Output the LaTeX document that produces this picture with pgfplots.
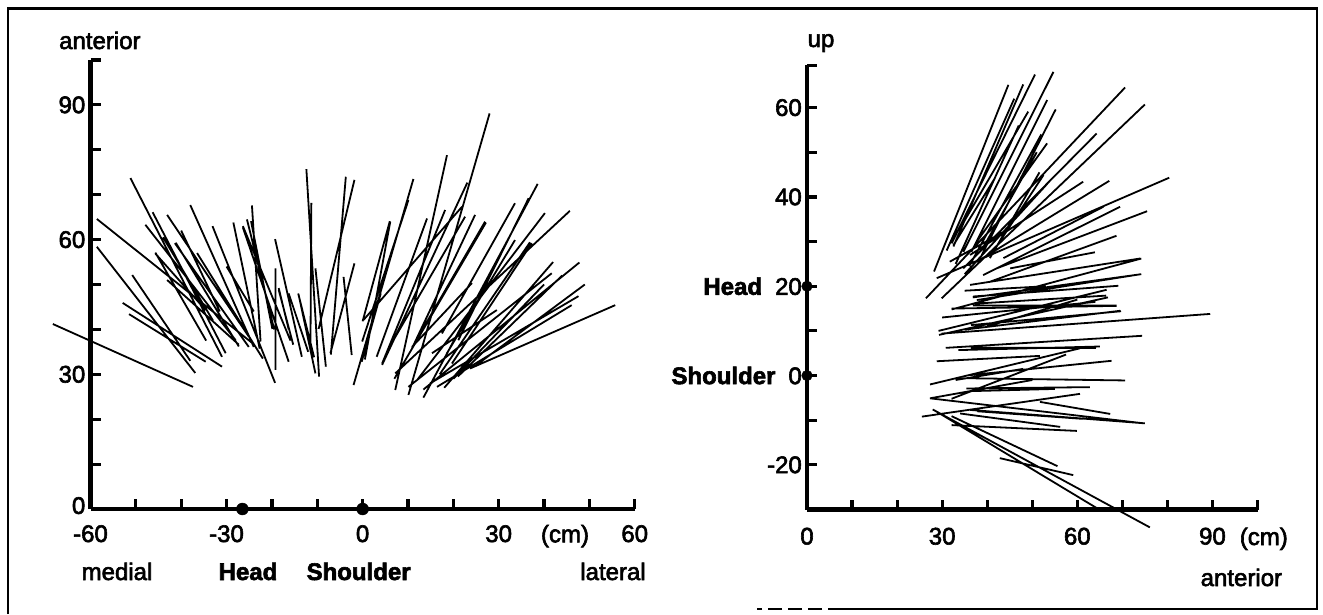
\documentclass[border=0pt]{standalone}
\usepackage{fontspec}
\setmainfont{Liberation Sans}[UprightFeatures={FakeBold=2.5}, BoldFeatures={FakeBold=2.5}]
\usepackage{pgfplots}
\pgfplotsset{compat=1.18}
\begin{document}
\begin{tikzpicture}[x=1pt,y=1pt,font=\fontsize{24}{28}\selectfont]
\useasboundingbox (0,0) rectangle (1323,614);
\draw[line width=2.2pt] (8,0) -- (8,605.5) -- (1317,605.5) -- (1317,5) -- (842,5);
\draw[line width=2.2pt, dash pattern=on 14pt off 6pt] (842,5) -- (757,5);
\pgfplotsset{
  panel/.style={scale only axis, clip=false,
    axis x line*=bottom, axis y line*=left,
    tick align=inside, major tick length=10pt,
    every tick/.style={black, line width=3.2pt},
    tick style={black, line width=3.2pt},
    major tick style={black, line width=3.2pt},
    axis line style={line width=4.2pt},
    every outer x axis line/.append style={line width=4.2pt},
    every outer y axis line/.append style={line width=4.2pt},
    tick label style={font=\fontsize{24}{28}\selectfont, inner sep=0pt},
    yticklabel style={anchor=east, xshift=-5pt},
  },
  seg/.style={black, line width=1.8pt, unbounded coords=jump, mark=none},
}
% ---------------- left panel ----------------
\begin{axis}[panel, at={(90.5pt,105pt)}, anchor=south west,
  width=544.2pt, height=449pt,
  xmin=-60, xmax=60, ymin=0, ymax=100,
  xtick={-60,-50,...,60}, xticklabels={-60,,,-30,,,0,,,30,,,60},
  xticklabel style={anchor=base, yshift=-33pt},
  ytick={0,10,...,100}, yticklabels={\raisebox{7pt}{0},,,30,,,60,,,90,},
]
\addplot[seg] table[row sep=\\] {
x y\\
-68.3 41.2\\ -37.4 27.2\\ nan nan\\
-58.6 64.6\\ -24.0 36.7\\ nan nan\\
-58.6 58.4\\ -36.9 30.3\\ nan nan\\
-50.8 52.1\\ -38.0 33.0\\ nan nan\\
-52.9 45.9\\ -31.0 31.7\\ nan nan\\
-51.5 43.4\\ -34.6 32.8\\ nan nan\\
-51.2 73.7\\ -31.0 33.9\\ nan nan\\
-46.3 66.1\\ -30.2 34.7\\ nan nan\\
-47.9 63.3\\ -28.0 37.6\\ nan nan\\
-45.7 56.9\\ -34.6 44.3\\ nan nan\\
-43.1 65.5\\ -25.1 38.4\\ nan nan\\
-41.4 59.2\\ -25.1 36.1\\ nan nan\\
-38.0 67.7\\ -24.0 36.1\\ nan nan\\
-33.1 63.0\\ -19.3 28.1\\ nan nan\\
-28.5 63.8\\ -22.7 35.7\\ nan nan\\
-24.4 67.6\\ -22.5 37.3\\ nan nan\\
-26.4 62.7\\ -16.3 32.8\\ nan nan\\
-25.5 64.5\\ -19.5 40.0\\ nan nan\\
-19.3 60.1\\ -13.4 33.9\\ nan nan\\
-19.2 53.6\\ -19.2 31.0\\ nan nan\\
-16.3 48.0\\ -12.0 35.0\\ nan nan\\
-14.1 47.7\\ -10.4 30.2\\ nan nan\\
-18.5 49.2\\ -16.3 40.0\\ nan nan\\
-12.4 75.7\\ -9.6 29.5\\ nan nan\\
-11.3 68.2\\ -11.5 36.0\\ nan nan\\
-10.4 53.6\\ -8.1 31.7\\ nan nan\\
-3.7 74.0\\ -7.0 34.4\\ nan nan\\
-1.8 73.3\\ -9.7 40.1\\ nan nan\\
-1.8 54.7\\ -7.1 34.7\\ nan nan\\
-4.2 51.7\\ -2.4 34.3\\ nan nan\\
-45.7 57.1\\ -34.5 37.5\\ nan nan\\
-41.2 59.3\\ -27.3 36.2\\ nan nan\\
-43.1 51.0\\ -27.3 36.6\\ nan nan\\
-26.4 63.0\\ -15.9 37.5\\ nan nan\\
-24.6 64.1\\ -19.9 40.1\\ nan nan\\
-18.5 48.8\\ -15.3 36.6\\ nan nan\\
-14.2 48.0\\ -10.7 33.8\\ nan nan\\
-40.0 62.0\\ -31.5 44.0\\ nan nan\\
-36.5 57.0\\ -22.0 33.5\\ nan nan\\
-44.0 60.5\\ -33.0 42.0\\ nan nan\\
-30.0 54.0\\ -24.0 44.0\\ nan nan\\
-2.0 27.6\\ 11.2 73.5\\ nan nan\\
0.0 41.8\\ 6.0 64.1\\ nan nan\\
7.2 26.5\\ 18.6 78.8\\ nan nan\\
10.1 25.4\\ 28.0 88.1\\ nan nan\\
13.4 24.8\\ 38.6 72.4\\ nan nan\\
23.7 31.3\\ 55.7 45.4\\ nan nan\\
13.4 26.6\\ 47.8 54.9\\ nan nan\\
16.4 27.2\\ 46.1 45.4\\ nan nan\\
12.0 28.7\\ 40.2 65.9\\ nan nan\\
7.2 30.2\\ 45.7 66.4\\ nan nan\\
10.1 27.2\\ 41.7 52.5\\ nan nan\\
14.9 28.0\\ 47.6 47.4\\ nan nan\\
-0.1 37.3\\ 10.1 68.8\\ nan nan\\
3.1 33.9\\ 14.2 64.7\\ nan nan\\
0.5 33.3\\ 6.1 64.0\\ nan nan\\
4.3 32.4\\ 18.2 66.6\\ nan nan\\
0.2 42.1\\ 21.9 67.3\\ nan nan\\
10.9 35.8\\ 24.8 65.5\\ nan nan\\
6.8 37.6\\ 22.6 65.1\\ nan nan\\
12.7 39.1\\ 27.0 64.0\\ nan nan\\
17.5 39.1\\ 33.6 68.1\\ nan nan\\
21.1 37.6\\ 36.6 69.2\\ nan nan\\
18.6 34.7\\ 33.6 59.9\\ nan nan\\
19.7 32.4\\ 37.3 59.2\\ nan nan\\
10.9 36.1\\ 24.1 50.3\\ nan nan\\
15.3 34.7\\ 29.6 44.3\\ nan nan\\
4.3 32.1\\ 23.1 72.7\\ nan nan\\
7.0 29.0\\ 27.2 63.8\\ nan nan\\
17.0 30.0\\ 36.9 59.4\\ nan nan\\
-0.2 32.8\\ 4.0 48.0\\ nan nan\\
20.0 29.0\\ 40.0 50.0\\ nan nan\\
25.0 32.0\\ 49.0 50.0\\ nan nan\\
18.0 27.0\\ 42.0 55.0\\ nan nan\\
21.0 29.5\\ 44.0 52.0\\
};
\addplot[only marks, mark=*, mark size=6pt, black] table[row sep=\\] {
x y\\ -26.5 0\\ 0 0\\
};
\end{axis}
% ---------------- right panel ----------------
\begin{axis}[panel, at={(807pt,104.5pt)}, anchor=south west,
  width=450.5pt, height=444.3pt,
  xmin=0, xmax=100, ymin=-30, ymax=69.5,
  xtick={0,10,...,100}, xticklabels={0,,,30,,,60,,,90,},
  xticklabel style={anchor=base, yshift=-35pt},
  ytick={-30,-20,-10,0,10,20,30,40,50,60,69.5},
  yticklabels={,-20,,\textbf{Shoulder}\hspace{13pt}0,,\textbf{Head}\hspace{13pt}20,,40,,60,},
]
\addplot[seg] table[row sep=\\] {
x y\\
28.2 23.3\\ 44.7 65.1\\ nan nan\\
32.5 28.9\\ 48.0 65.2\\ nan nan\\
32.1 29.6\\ 50.6 67.4\\ nan nan\\
34.7 27.7\\ 54.7 68.0\\ nan nan\\
36.5 27.7\\ 53.3 61.7\\ nan nan\\
38.8 27.0\\ 55.2 59.6\\ nan nan\\
34.0 33.0\\ 49.1 59.1\\ nan nan\\
37.7 30.0\\ 53.3 52.0\\ nan nan\\
26.4 17.3\\ 70.6 64.5\\ nan nan\\
29.9 17.3\\ 75.0 60.7\\ nan nan\\
34.7 24.0\\ 64.3 54.2\\ nan nan\\
40.6 26.3\\ 51.6 45.5\\ nan nan\\
36.2 27.0\\ 61.3 43.4\\ nan nan\\
28.8 21.8\\ 80.4 44.3\\ nan nan\\
37.7 25.5\\ 67.1 43.6\\ nan nan\\
42.1 24.0\\ 75.5 36.8\\ nan nan\\
39.1 22.5\\ 69.5 37.8\\ nan nan\\
43.6 26.3\\ 65.8 37.8\\ nan nan\\
40.6 21.0\\ 68.7 31.3\\ nan nan\\
45.1 24.0\\ 63.9 27.6\\ nan nan\\
36.2 20.3\\ 73.9 26.2\\ nan nan\\
37.7 16.9\\ 74.1 22.7\\ nan nan\\
36.9 17.7\\ 69.1 20.1\\ nan nan\\
31.7 25.5\\ 45.1 33.0\\ nan nan\\
42.8 30.0\\ 52.5 44.9\\ nan nan\\
32.5 29.2\\ 41.7 44.2\\ nan nan\\
35.0 22.7\\ 53.3 42.9\\ nan nan\\
33.0 25.0\\ 47.0 56.0\\ nan nan\\
36.0 24.5\\ 52.0 54.0\\ nan nan\\
31.0 28.0\\ 46.0 62.0\\ nan nan\\
39.0 28.5\\ 51.0 50.0\\ nan nan\\
36.8 15.7\\ 68.7 15.7\\ nan nan\\
29.2 10.0\\ 66.5 19.2\\ nan nan\\
29.9 9.4\\ 89.5 13.8\\ nan nan\\
35.1 10.3\\ 69.5 14.5\\ nan nan\\
32.1 15.0\\ 68.7 15.6\\ nan nan\\
29.3 9.1\\ 66.8 17.5\\ nan nan\\
36.4 11.3\\ 69.7 14.4\\ nan nan\\
37.3 16.1\\ 66.4 17.9\\ nan nan\\
30.8 6.2\\ 74.4 8.9\\ nan nan\\
36.4 6.2\\ 64.1 6.2\\ nan nan\\
28.8 3.2\\ 51.7 4.4\\ nan nan\\
33.6 5.7\\ 65.0 6.5\\ nan nan\\
27.3 -2.0\\ 60.6 6.1\\ nan nan\\
36.2 0.1\\ 67.6 3.3\\ nan nan\\
35.4 -0.6\\ 70.6 -1.1\\ nan nan\\
35.4 -2.9\\ 62.8 -2.6\\ nan nan\\
32.1 -5.2\\ 57.5 4.7\\ nan nan\\
25.5 -9.2\\ 60.6 -4.1\\ nan nan\\
27.3 -5.1\\ 74.7 -10.7\\ nan nan\\
27.3 -5.1\\ 50.0 -1.0\\ nan nan\\
27.9 -7.6\\ 76.1 -34.0\\ nan nan\\
28.8 -8.1\\ 65.0 -30.1\\ nan nan\\
42.8 -18.5\\ 59.1 -22.3\\ nan nan\\
32.1 -11.1\\ 59.9 -12.4\\ nan nan\\
34.0 -8.5\\ 56.2 -11.5\\ nan nan\\
36.2 -7.7\\ 75.0 -10.7\\ nan nan\\
51.7 -5.9\\ 67.3 -8.6\\ nan nan\\
32.1 -9.1\\ 55.6 -20.3\\ nan nan\\
37.8 -8.0\\ 61.2 -9.7\\ nan nan\\
36.0 -3.5\\ 55.0 -3.0\\ nan nan\\
32.1 14.8\\ 74.2 26.2\\ nan nan\\
36.8 17.5\\ 74.2 22.7\\ nan nan\\
30.0 13.0\\ 64.0 16.5\\ nan nan\\
40.0 11.0\\ 60.0 17.0\\ nan nan\\
33.0 -1.0\\ 48.0 1.5\\ nan nan\\
35.0 19.0\\ 53.0 20.0\\
};
\addplot[only marks, mark=*, mark size=5.3pt, black] table[row sep=\\] {
x y\\ 0 0\\ 0 20\\
};
\end{axis}
% ---------------- texts ----------------
\node[anchor=base west, inner sep=0] at (59,565) {anterior};
\node[anchor=base, inner sep=0] at (821,567) {up};
\node[anchor=base, inner sep=0] at (117,34) {medial};
\node[anchor=base, inner sep=0] at (248,34) {\textbf{Head}};
\node[anchor=base, inner sep=0] at (358.6,34) {\textbf{Shoulder}};
\node[anchor=base, inner sep=0] at (613,34) {lateral};
\node[anchor=base, inner sep=0] at (565,71.7) {(cm)};
\node[anchor=base, inner sep=0] at (1263.8,69) {(cm)};
\node[anchor=base, inner sep=0] at (1241.4,28) {anterior};
\end{tikzpicture}
\end{document}
